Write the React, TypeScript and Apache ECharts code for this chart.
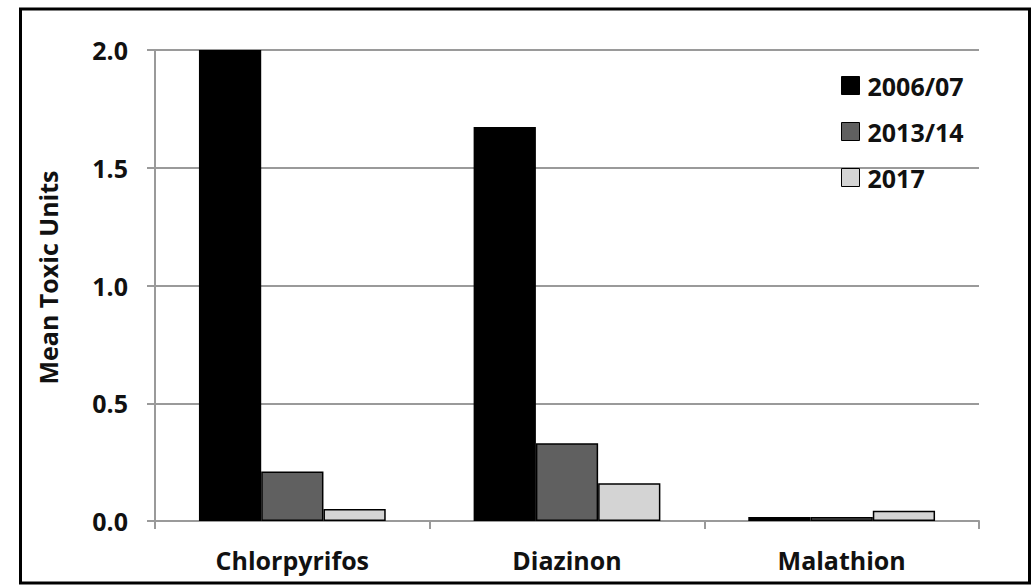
import React, { useEffect, useRef } from "react";
import * as echarts from "echarts";

const categories = ["Chlorpyrifos", "Diazinon", "Malathion"];
const seriesNames = ["2006/07", "2013/14", "2017"];
const values2006 = [2.0, 1.673, 0.017];
const values2013 = [0.21, 0.33, 0.017];
const values2017 = [0.051, 0.16, 0.043];
const yTicks = [0, 0.5, 1.0, 1.5, 2.0];

const colors = ["#000000", "#606060", "#d4d4d4"];
const FONT = "Open Sans";

export default function App() {
  const ref = useRef<HTMLDivElement>(null);
  useEffect(() => {
    const chart = echarts.init(ref.current!, null, { renderer: "svg" });
    const data = [values2006, values2013, values2017];
    chart.setOption({
      animation: false,
      backgroundColor: "#ffffff",
      grid: { left: 155, right: 56, top: 50, bottom: 65 },
      legend: {
        orient: "vertical",
        left: 836,
        top: 68,
        icon: "rect",
        itemWidth: 18,
        itemHeight: 18,
        itemGap: 21,
        itemStyle: { borderColor: "#000", borderWidth: 1 },
        textStyle: { fontFamily: FONT, fontWeight: "bold", fontSize: 25, color: "#111", padding: [0, 0, 0, 3] },
        data: seriesNames,
      },
      xAxis: {
        type: "category",
        data: categories,
        axisLine: { lineStyle: { color: "#9a9a9a", width: 2 } },
        axisTick: { show: true, length: 8, lineStyle: { color: "#9a9a9a", width: 2 } },
        axisLabel: { fontFamily: FONT, fontWeight: "bold", fontSize: 25, color: "#111", margin: 26 },
      },
      yAxis: {
        type: "value",
        min: 0,
        max: 2,
        interval: 0.5,
        name: "Mean Toxic Units",
        nameLocation: "middle",
        nameGap: 95,
        nameTextStyle: { fontFamily: FONT, fontWeight: "bold", fontSize: 25, color: "#111", padding: [0, 0, 0, 16] },
        axisLine: { show: true, lineStyle: { color: "#9a9a9a", width: 2 } },
        axisTick: { show: true, length: 8, lineStyle: { color: "#9a9a9a", width: 2 } },
        axisLabel: {
          fontFamily: FONT,
          fontWeight: "bold",
          fontSize: 25,
          color: "#111",
          margin: 27,
          formatter: (v: number) => (yTicks.includes(v) ? v.toFixed(1) : ""),
        },
        splitLine: { lineStyle: { color: "#9a9a9a", width: 2 } },
      },
      series: seriesNames.map((name, i) => ({
        name,
        type: "bar",
        data: data[i],
        barGap: "0%",
        barCategoryGap: "32%",
        itemStyle: { color: colors[i], borderColor: "#000", borderWidth: 1.5 },
      })),
      graphic: [
        {
          type: "rect",
          shape: { x: 20.5, y: 9, width: 1009, height: 574 },
          style: { fill: "none", stroke: "#000", lineWidth: 3 },
          z: 100,
        },
      ],
    });
    return () => chart.dispose();
  }, []);
  return (
    <div
      ref={ref}
      style={{ position: "absolute", left: 0, top: 0, width: 1035, height: 586 }}
    />
  );
}
